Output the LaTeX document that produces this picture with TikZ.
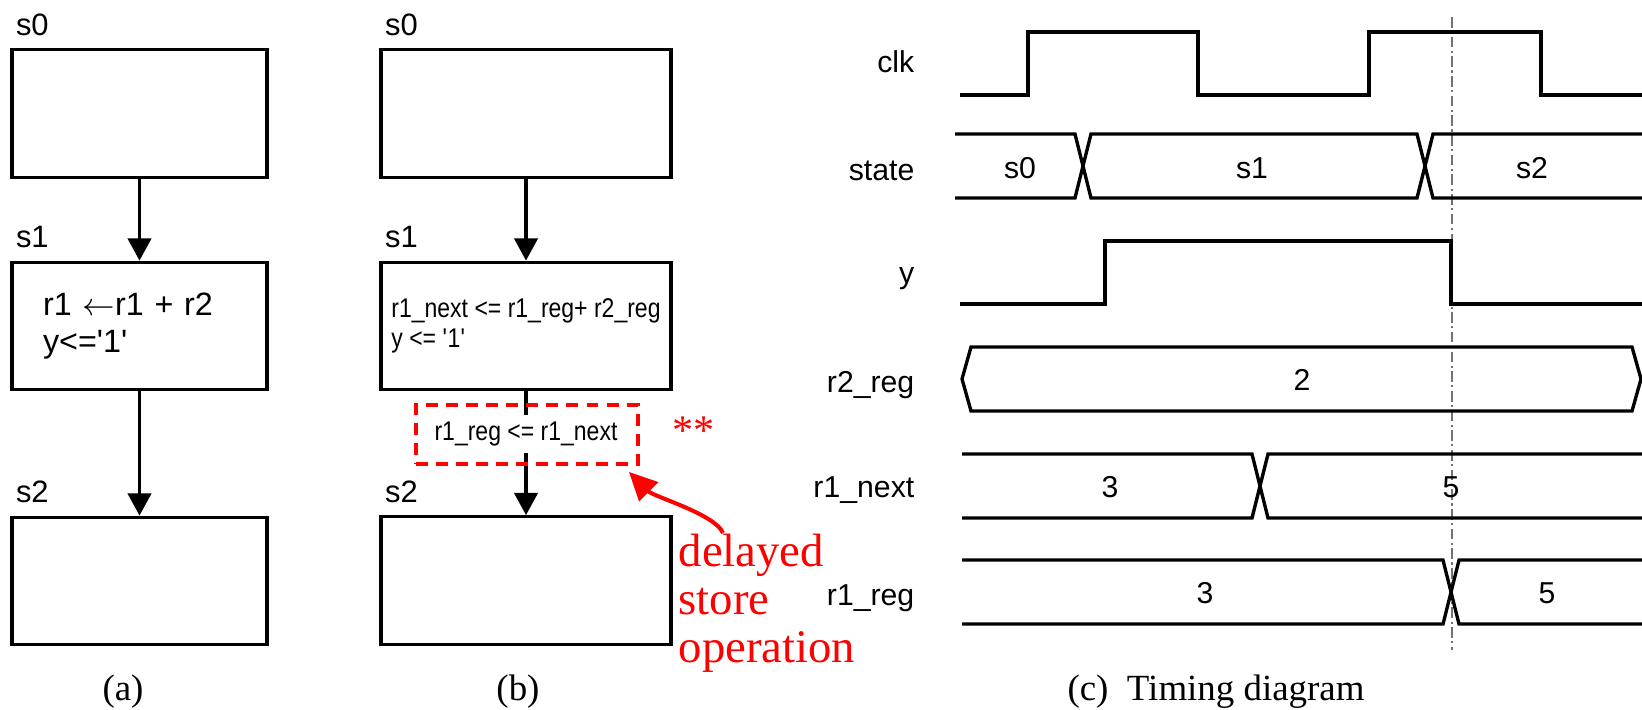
\documentclass[tikz,border=0pt]{standalone}
\usepackage{fontspec}
\setmainfont{Liberation Serif}
\setsansfont{Liberation Sans}
\newfontfamily\narrowsf{Liberation Sans}[FakeStretch=0.85]
\usepackage{tikz}
\usetikzlibrary{arrows.meta,positioning}

\tikzset{
  statebox/.style={draw, line width=0.95pt, minimum height=12.75mm, inner ysep=0pt, align=left},
  statea/.style={statebox, minimum width=25.5mm, text width=19.3mm, inner xsep=3.1mm,
    font=\sffamily\fontsize{9.2}{10.6}\selectfont},
  stateb/.style={statebox, minimum width=29mm, inner xsep=0.5mm,
    font=\narrowsf\fontsize{7.7}{8.5}\selectfont},
  namelbl/.style={inner sep=0pt, font=\sffamily\fontsize{8.8}{10}\selectfont},
  flow/.style={line width=0.95pt, -{Triangle[length=6.3pt,width=6.6pt]}},
  storetxt/.style={fill=white, inner sep=2pt, font=\narrowsf\fontsize{7.7}{8.5}\selectfont},
  storebox/.style={draw=red, line width=1.1pt, dash pattern=on 3.4pt off 2.3pt,
    minimum width=22.2mm, minimum height=5.9mm},
  redarrow/.style={red, line width=1.15pt, -{Triangle[length=8pt,width=7.5pt]}},
  wave/.style={line width=0.95pt, line join=miter},
  siglabel/.style={anchor=base east, inner sep=0pt, font=\sffamily\fontsize{8.6}{10}\selectfont},
  busval/.style={anchor=base, inner sep=0pt, font=\sffamily\fontsize{8.6}{10}\selectfont},
  caption/.style={anchor=base, inner sep=0pt, font=\rmfamily\fontsize{10.5}{12}\selectfont},
}

\begin{document}
\begin{tikzpicture}[x=0.1mm, y=-0.1mm]
\useasboundingbox (0,0) rectangle (1642,709);

% (a) register transfer in one state
\node[statea] (a0) at (139.5,113.5) {};
\node[statea] (a1) at (139.5,326) {r1 $\leftarrow$r1 + r2\\ y<=\textquotesingle 1\textquotesingle};
\node[statea] (a2) at (139.5,581) {};
\draw[flow] (a0) -- (a1);
\draw[flow] (a1) -- (a2);

% (b) with next-state value and delayed store
\node[stateb] (b0) at (526,113.5) {};
\node[stateb] (b1) at (526,326) {r1\_next <= r1\_reg+ r2\_reg\\ y <= \textquotesingle 1\textquotesingle};
\node[stateb] (b2) at (526,580.5) {};
\draw[flow] (b0) -- (b1);
\draw[flow] (b1) -- (b2);
\node[storetxt] (store) at (526,434) {r1\_reg <= r1\_next};
\node[storebox] (storefr) at (527,434.5) {};

\foreach \p in {a,b}
  \foreach \n in {0,1,2}
    \node[namelbl, above right=1.2mm and 0.5mm of \p\n.north west] (\p\n-name) {s\n};

% red remark
\node[anchor=base west, inner sep=0pt, red, font=\rmfamily\fontsize{12}{12}\selectfont] (stars) at (672,444) {**};
\node[anchor=north west, inner sep=0pt, align=left, red, font=\rmfamily\fontsize{13.3}{13.7}\selectfont] (note) at (678,533) {delayed\\store\\operation};
\coordinate (tip) at ([xshift=-1.1mm,yshift=-0.6mm]storefr.south east);
\draw[redarrow] ([xshift=4.5mm]note.north west) .. controls +(-8,-19) and +(25,25) .. (tip);

% (c) timing diagram
\draw[black!55, line width=0.35pt, dash pattern=on 3pt off 1pt on 0.6pt off 1pt] (1452,17) -- (1452,650);

\foreach \y/\s/\n in {72/clk/clk, 180/state/state, 283/y/y, 392/r2\_reg/r2reg, 497/r1\_next/r1next, 605/r1\_reg/r1reg}
  \node[siglabel] (lbl-\n) at (915,\y) {\s};

\draw[wave] (960,95) -- (1028,95) -- (1028,32) -- (1198,32) -- (1198,95)
  -- (1369,95) -- (1369,32) -- (1541,32) -- (1541,95) -- (1642,95);
\draw[wave] (955,134) -- (1075,134) -- (1091,198) -- (1417,198) -- (1433,134) -- (1642,134);
\draw[wave] (955,198) -- (1075,198) -- (1091,134) -- (1417,134) -- (1433,198) -- (1642,198);
\draw[wave] (960,304) -- (1105,304) -- (1105,241) -- (1451,241) -- (1451,304) -- (1642,304);
\draw[wave] (962,379) -- (971,347) -- (1632,347) -- (1641,379) -- (1632,411) -- (971,411) -- cycle;
\foreach \t/\c in {454/1260, 560/1451} {
  \draw[wave] (962,\t) -- (\c-8,\t) -- (\c+8,\t+64) -- (1642,\t+64);
  \draw[wave] (962,\t+64) -- (\c-8,\t+64) -- (\c+8,\t) -- (1642,\t);
}

\foreach \x/\y/\v [count=\i] in {1020/178/s0, 1252/178/s1, 1532/178/s2, 1302/390/2,
    1110/497/3, 1451/497/5, 1205/603/3, 1547/603/5}
  \node[busval] (val\i) at (\x,\y) {\v};

\node[caption] (capa) at (123,700) {(a)};
\node[caption] (capb) at (518,700) {(b)};
\node[caption] (capc) at (1216,700) {(c)\enspace Timing diagram};
\end{tikzpicture}
\end{document}
